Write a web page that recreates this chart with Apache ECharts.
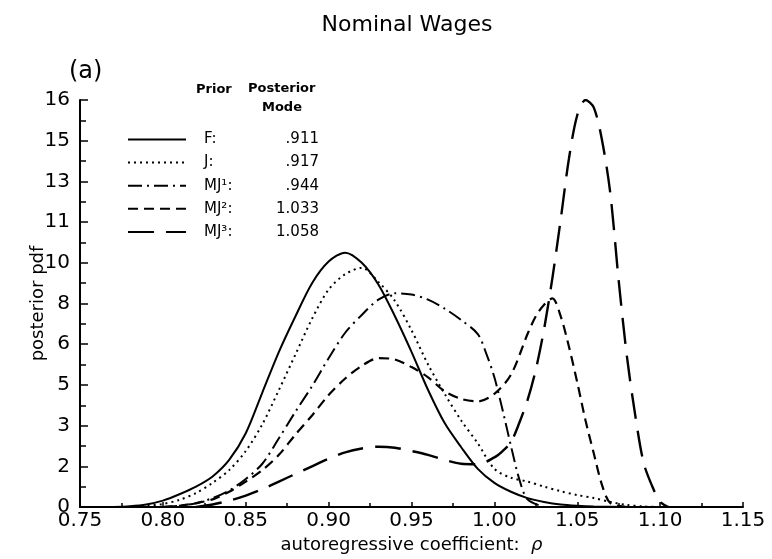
<!DOCTYPE html>
<html>
<head>
<meta charset="utf-8">
<script src="https://cdn.jsdelivr.net/npm/echarts@6/dist/echarts.min.js"></script>
<style>html,body{margin:0;padding:0;background:#fff}#c{width:772px;height:559px}</style>
</head>
<body>
<div id="c"></div>
<script>
// ---- data ----
const xTicks = [0.75, 0.80, 0.85, 0.90, 0.95, 1.00, 1.05, 1.10, 1.15];
const yTickLabels = ['0', '2', '3', '5', '6', '8', '10', '11', '13', '15', '16'];

const seriesNames = ['F', 'J', 'MJ1', 'MJ2', 'MJ3'];
const legendLabels = ['F:', 'J:', 'MJ\u00b9:', 'MJ\u00b2:', 'MJ\u00b3:'];
const posteriorModes = ['.911', '.917', '.944', '1.033', '1.058'];

const fX = [0.77,0.78,0.79,0.80,0.81,0.82,0.83,0.84,0.85,0.86,0.87,0.88,0.89,0.90,0.91,0.92,0.93,0.94,0.95,0.96,0.97,0.98,0.99,1.00,1.01,1.02,1.03,1.04,1.05,1.06,1.08];
const fY = [0.0,0.03,0.1,0.25,0.5,0.8,1.2,1.85,2.9,4.5,6.1,7.5,8.8,9.65,10.0,9.6,8.75,7.5,6.1,4.6,3.3,2.35,1.5,0.95,0.6,0.35,0.2,0.1,0.05,0.02,0.0];

const jX = [0.78,0.79,0.80,0.81,0.82,0.83,0.84,0.85,0.86,0.87,0.88,0.89,0.90,0.91,0.92,0.93,0.94,0.95,0.96,0.97,0.98,0.99,1.00,1.01,1.02,1.03,1.04,1.05,1.06,1.07,1.08,1.09,1.10];
const jY = [0.0,0.05,0.12,0.28,0.55,0.95,1.45,2.2,3.25,4.6,6.0,7.4,8.55,9.15,9.4,8.85,8.1,6.95,5.6,4.45,3.4,2.5,1.5,1.15,1.0,0.8,0.62,0.47,0.35,0.2,0.08,0.02,0.0];

const mj1X = [0.80,0.81,0.82,0.83,0.84,0.85,0.86,0.87,0.88,0.89,0.90,0.91,0.92,0.93,0.94,0.95,0.96,0.97,0.98,0.99,0.995,1.00,1.005,1.01,1.015,1.02,1.03];
const mj1Y = [0.0,0.05,0.15,0.35,0.65,1.1,1.7,2.7,3.75,4.75,5.85,6.85,7.55,8.15,8.4,8.35,8.15,7.8,7.35,6.8,6.05,5.1,3.8,2.4,1.1,0.3,0.0];

const mj2X = [0.80,0.81,0.82,0.83,0.84,0.85,0.86,0.87,0.88,0.89,0.90,0.91,0.92,0.93,0.94,0.95,0.96,0.97,0.98,0.99,1.00,1.01,1.02,1.025,1.03,1.035,1.04,1.045,1.05,1.055,1.06,1.065,1.07,1.08];
const mj2Y = [0.0,0.05,0.15,0.3,0.6,1.0,1.45,2.05,2.85,3.6,4.4,5.05,5.55,5.85,5.8,5.5,5.1,4.55,4.25,4.15,4.45,5.2,6.8,7.5,7.95,8.2,7.5,6.3,4.9,3.4,2.1,0.85,0.15,0.0];

const mj3X = [0.82,0.83,0.84,0.85,0.86,0.87,0.88,0.89,0.90,0.91,0.92,0.93,0.94,0.95,0.96,0.97,0.98,0.99,1.00,1.005,1.01,1.015,1.02,1.025,1.03,1.035,1.04,1.045,1.05,1.055,1.06,1.065,1.07,1.075,1.08,1.085,1.09,1.095,1.10,1.105];
const mj3Y = [0.0,0.1,0.25,0.45,0.7,1.0,1.3,1.6,1.9,2.15,2.3,2.37,2.33,2.2,2.05,1.85,1.7,1.68,1.95,2.2,2.55,3.3,4.2,5.4,7.0,9.0,11.3,13.7,15.4,16.0,15.7,14.4,12.3,8.9,5.9,3.6,1.75,0.85,0.2,0.0];

// ---- chart ----
const xs = [fX, jX, mj1X, mj2X, mj3X];
const ys = [fY, jY, mj1Y, mj2Y, mj3Y];
const dashTypes = ['solid', [2, 4], [14, 5, 2, 5], [10, 6], [26, 12]];
const widths = [2, 2, 2, 2.2, 2.4];
const FONT = 'DejaVu Sans';

const chart = echarts.init(document.getElementById('c'), null, {renderer: 'canvas'});
const yStep = 1.6;

const series = seriesNames.map((n, i) => ({
  name: n,
  type: 'line',
  symbol: 'none',
  smooth: 0.3,
  data: xs[i].map((x, k) => [x, ys[i][k]]),
  lineStyle: {color: '#000', width: widths[i], type: dashTypes[i], cap: 'butt'},
  itemStyle: {color: '#000'},
  silent: true
}));

chart.setOption({
  animation: false,
  backgroundColor: '#fff',
  grid: {left: 80, right: 29, top: 100, bottom: 52},
  xAxis: {
    type: 'value', min: 0.75, max: 1.15, interval: 0.05,
    axisLine: {lineStyle: {color: '#000', width: 2}},
    axisTick: {inside: true, length: 5, lineStyle: {color: '#000', width: 1.5}},
    minorTick: {show: true, splitNumber: 2, length: 4, lineStyle: {color: '#000', width: 1.5}},
    splitLine: {show: false},
    axisLabel: {color: '#000', fontFamily: FONT, fontSize: 20, margin: 4,
      formatter: v => { const k = Math.round((v - 0.75) / 0.05); return xTicks[k] != null ? xTicks[k].toFixed(2) : ''; }},
    name: 'autoregressive coefficient:  {i|\u03c1}',
    nameLocation: 'middle', nameGap: 28,
    nameTextStyle: {color: '#000', fontFamily: FONT, fontSize: 18,
      rich: {i: {fontStyle: 'italic', fontFamily: FONT, fontSize: 18, color: '#000'}}}
  },
  yAxis: {
    type: 'value', min: 0, max: 16, interval: yStep,
    axisLine: {show: true, lineStyle: {color: '#000', width: 2}},
    axisTick: {show: true, inside: true, length: 8, lineStyle: {color: '#000', width: 1.5}},
    minorTick: {show: true, splitNumber: 2, length: 6, lineStyle: {color: '#000', width: 1.5}},
    splitLine: {show: false},
    axisLabel: {color: '#000', fontFamily: FONT, fontSize: 20, margin: 10,
      formatter: v => { const k = Math.round(v / yStep); return yTickLabels[k] != null ? yTickLabels[k] : ''; }},
    name: 'posterior pdf', nameLocation: 'middle', nameGap: 33, nameMoveOverlap: false,
    nameTextStyle: {color: '#000', fontFamily: FONT, fontSize: 18}
  },
  legend: {
    data: seriesNames,
    orient: 'vertical', left: 127, top: 132, padding: 0,
    itemWidth: 58, itemHeight: 14, itemGap: 8.1,
    itemStyle: {opacity: 0},
    textStyle: {color: '#000', fontFamily: FONT, fontSize: 15, lineHeight: 14,
      rich: {
        s: {width: 13, lineHeight: 14},
        n: {width: 55, fontFamily: FONT, fontSize: 15, lineHeight: 14, color: '#000'},
        v: {width: 60, align: 'right', fontFamily: FONT, fontSize: 15, lineHeight: 14, color: '#000'}
      }},
    formatter: name => {
      const i = seriesNames.indexOf(name);
      return '{s| }{n|' + legendLabels[i] + '}{v|' + posteriorModes[i] + '}';
    },
    selectedMode: false
  },
  graphic: [
    {type: 'text', x: 407, y: 25, style: {text: 'Nominal Wages', font: '22px "DejaVu Sans"', fill: '#000', textAlign: 'center', textVerticalAlign: 'middle'}},
    {type: 'text', x: 69, y: 72, style: {text: '(a)', font: '24px "DejaVu Sans"', fill: '#000', textAlign: 'left', textVerticalAlign: 'middle'}},
    {type: 'text', x: 196, y: 90, style: {text: 'Prior', font: 'bold 13px "DejaVu Sans"', fill: '#000', textAlign: 'left', textVerticalAlign: 'middle'}},
    {type: 'text', x: 248, y: 89, style: {text: 'Posterior', font: 'bold 13px "DejaVu Sans"', fill: '#000', textAlign: 'left', textVerticalAlign: 'middle'}},
    {type: 'text', x: 262, y: 108, style: {text: 'Mode', font: 'bold 13px "DejaVu Sans"', fill: '#000', textAlign: 'left', textVerticalAlign: 'middle'}}
  ],
  series: series
});
</script>
</body>
</html>
